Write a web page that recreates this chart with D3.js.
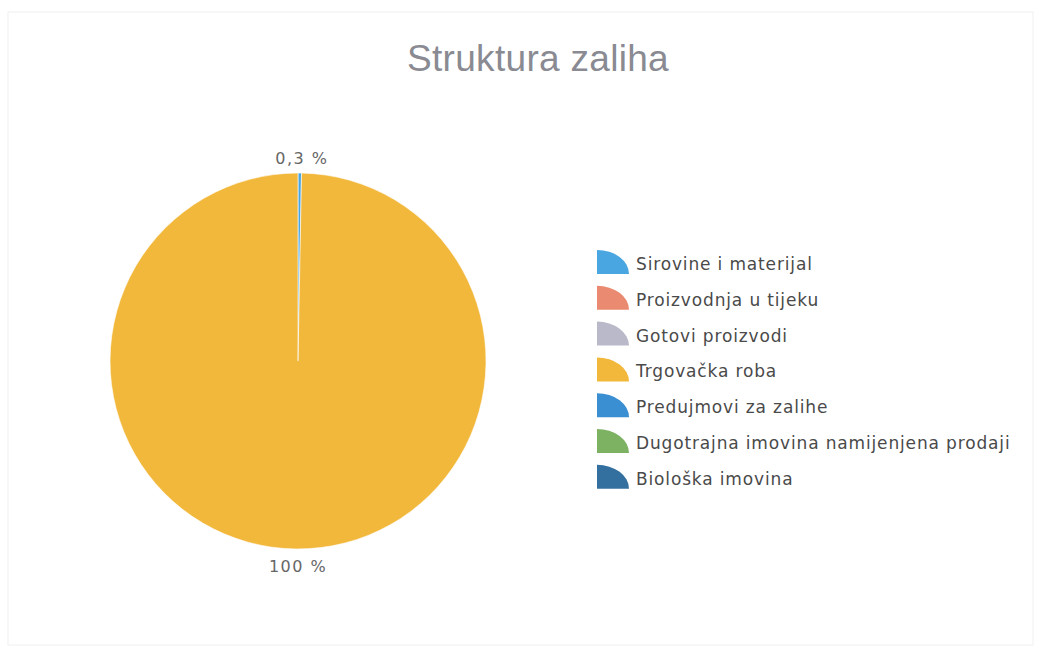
<!DOCTYPE html>
<html>
<head>
<meta charset="utf-8">
<script src="https://cdn.jsdelivr.net/npm/d3@7"></script>
<style>
  body { margin: 0; background: #fff; }
  svg { display: block; }
</style>
</head>
<body>
<svg id="chart"></svg>
<script>
// data
const categories = ["Sirovine i materijal", "Proizvodnja u tijeku", "Gotovi proizvodi",
  "Trgovačka roba", "Predujmovi za zalihe", "Dugotrajna imovina namijenjena prodaji", "Biološka imovina"];
const values = [0.3, 0, 0, 99.7, 0, 0, 0];
const sliceLabels = ["0,3 %", "", "", "100 %", "", "", ""];
const colors = ["#4aa6e0", "#ea8a70", "#b9b9c9", "#f2b83c", "#3a8ed2", "#7db262", "#33709f"];

const width = 1039, height = 649;
const svg = d3.select("#chart").attr("width", width).attr("height", height);

// faint frame
svg.append("rect")
  .attr("x", 8).attr("y", 12).attr("width", width - 14).attr("height", height - 16)
  .attr("fill", "none").attr("stroke", "#f0f0f0");

// title
svg.append("text")
  .attr("x", 538).attr("y", 71)
  .attr("text-anchor", "middle")
  .attr("font-family", "Liberation Sans, Arial, sans-serif")
  .attr("font-size", 37)
  .attr("letter-spacing", 0.3)
  .attr("fill", "#8a8a92")
  .text("Struktura zaliha");

// pie
const cx = 298, cy = 361, r = 188;
const data = categories.map((c, i) => ({ name: c, value: values[i], label: sliceLabels[i], color: colors[i] }));
const pie = d3.pie().value(d => d.value).sort(null);
const arc = d3.arc().innerRadius(0).outerRadius(r);
const arcs = pie(data).filter(d => d.data.value > 0);

const g = svg.append("g").attr("transform", `translate(${cx},${cy})`);
g.selectAll("path")
  .data(arcs)
  .enter()
  .append("path")
  .attr("d", arc)
  .attr("fill", d => d.data.color)
  .attr("stroke", "#fff")
  .attr("stroke-width", 0.6);

// slice labels, outside the pie
const labelArc = d3.arc().innerRadius(r + 16).outerRadius(r + 16);
g.selectAll(".lbl")
  .data(arcs)
  .enter()
  .append("text")
  .attr("class", "lbl")
  .attr("x", d => labelArc.centroid(d)[0] + 2)
  .attr("y", d => labelArc.centroid(d)[1] + 7)
  .attr("text-anchor", "middle")
  .attr("font-family", "DejaVu Sans, Verdana, sans-serif")
  .attr("font-size", 16)
  .attr("letter-spacing", 1.5)
  .attr("fill", "#666")
  .text(d => d.data.label);

// legend
const legend = svg.append("g").attr("transform", "translate(597,250)");
const rowH = 35.8;
const icon = "M0,24 L0,0 A32,24 0 0 1 32,24 Z";
const rows = legend.selectAll(".row")
  .data(data)
  .enter()
  .append("g")
  .attr("class", "row")
  .attr("transform", (d, i) => `translate(0,${i * rowH})`);
rows.append("path")
  .attr("d", icon)
  .attr("fill", d => d.color);
rows.append("text")
  .attr("x", 39).attr("y", 20)
  .attr("font-family", "DejaVu Sans, Tahoma, sans-serif")
  .attr("font-size", 17)
  .attr("letter-spacing", 0.85)
  .attr("fill", "#4a4a4a")
  .text(d => d.name);
</script>
</body>
</html>
